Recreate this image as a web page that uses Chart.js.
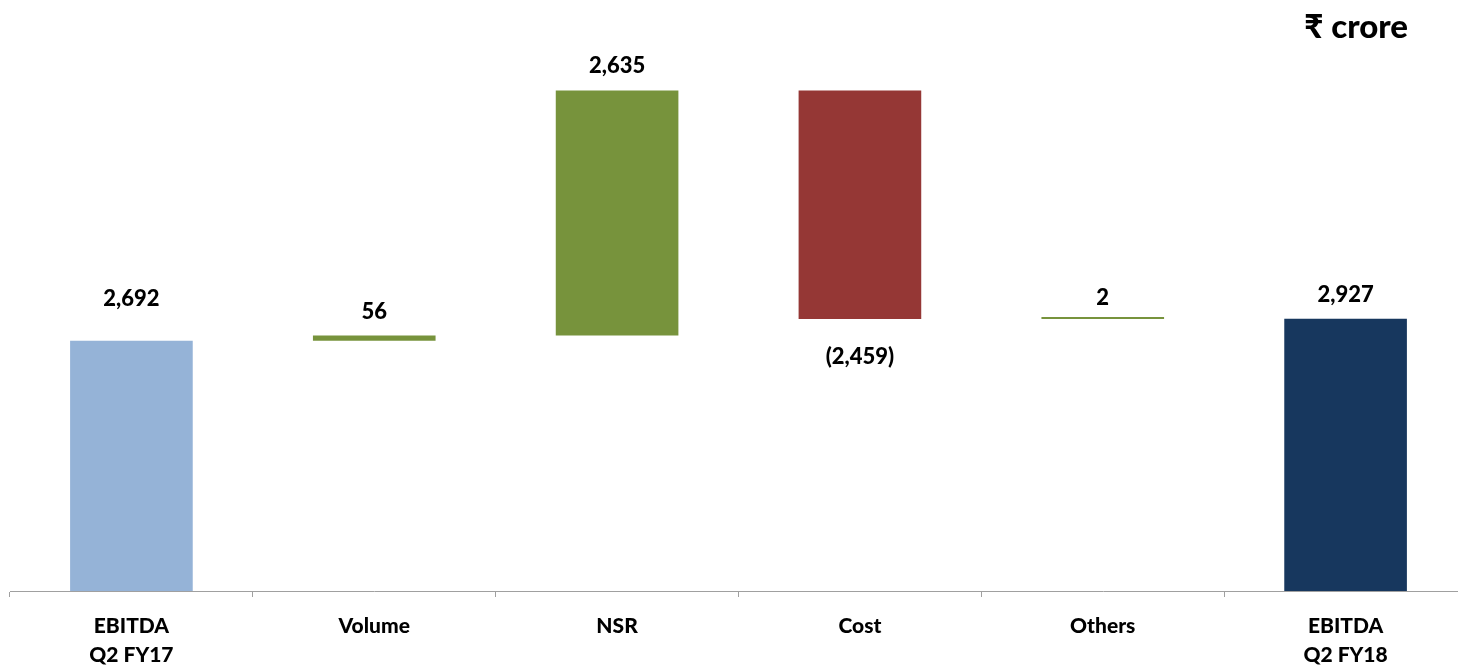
<!DOCTYPE html>
<html>
<head>
<meta charset="utf-8">
<script src="https://cdn.jsdelivr.net/npm/chart.js@4"></script>
<style>
html,body{margin:0;padding:0;background:#fff;overflow:hidden;width:1458px;height:667px;}
#wrap{position:absolute;left:0;top:0;width:1470px;height:667px;}
#unit{position:absolute;right:50px;top:5px;font-family:Lato,"Open Sans",sans-serif;font-weight:900;font-size:33px;color:#000;}
</style>
</head>
<body>
<div id="wrap"><canvas id="c"></canvas></div>
<div id="unit">₹ crore</div>
<script>
const categories = [["EBITDA","Q2 FY17"],["Volume"],["NSR"],["Cost"],["Others"],["EBITDA","Q2 FY18"]];
const changes = [2692, 56, 2635, -2459, 2, 2927];
const isTotal = [true, false, false, false, false, true];
const valueLabels = ["2,692", "56", "2,635", "(2,459)", "2", "2,927"];
const barColors = ["#95B3D7", "#77933C", "#77933C", "#953735", "#77933C", "#17375E"];

// Build floating ranges from the change values
let running = 0;
const ranges = changes.map((v, i) => {
  if (isTotal[i]) { running = v; return [0, v]; }
  const start = running; running += v; return [start, running];
});

const labelPlugin = {
  id: 'valueLabels',
  afterDatasetsDraw(chart) {
    const ctx = chart.ctx;
    const meta = chart.getDatasetMeta(0);
    const tweak = {0: -18, 4: 5};
    ctx.save();
    ctx.font = '900 22px Lato, "Open Sans", sans-serif';
    ctx.fillStyle = '#000';
    ctx.textAlign = 'center';
    ctx.textBaseline = 'middle';
    meta.data.forEach((bar, i) => {
      const neg = changes[i] < 0;
      const top = Math.min(bar.y, bar.base);
      const bottom = Math.max(bar.y, bar.base);
      const y = neg ? bottom + 38 : top - 24 + (tweak[i] || 0);
      ctx.fillText(valueLabels[i], bar.x, y);
    });
    ctx.restore();
  }
};

new Chart(document.getElementById('c'), {
  type: 'bar',
  data: {
    labels: categories,
    datasets: [{
      data: ranges,
      backgroundColor: barColors,
      borderWidth: 0,
      barPercentage: 0.505,
      categoryPercentage: 1.0,
      minBarLength: 2
    }]
  },
  options: {
    responsive: true,
    maintainAspectRatio: false,
    animation: false,
    layout: { padding: { left: 10, right: 3, top: 33, bottom: 0 } },
    plugins: { legend: { display: false }, tooltip: { enabled: false } },
    scales: {
      x: {
        grid: { display: true, drawOnChartArea: false, drawTicks: true, tickLength: 6, color: '#A0A0A0', offset: true },
        border: { display: true, color: '#A0A0A0', width: 1 },
        ticks: {
          color: '#000',
          padding: 14,
          font: { family: 'Lato, "Open Sans", sans-serif', weight: '900', size: 21, lineHeight: 1.42 },
          maxRotation: 0, autoSkip: false
        },
        afterFit(scale) { scale.height = 76; }
      },
      y: {
        display: false,
        min: 0,
        max: 6000
      }
    }
  },
  plugins: [labelPlugin]
});
</script>
</body>
</html>
